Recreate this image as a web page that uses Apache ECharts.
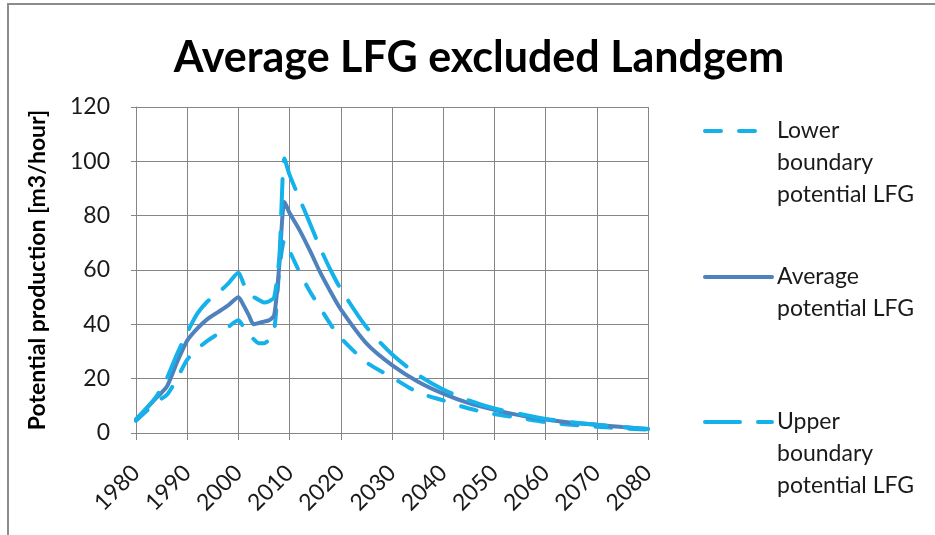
<!DOCTYPE html>
<html>
<head>
<meta charset="utf-8">
<script src="https://cdn.jsdelivr.net/npm/echarts@6/dist/echarts.min.js"></script>
<style>
  html, body { margin: 0; padding: 0; background: #fff; }
  #chart { width: 935px; height: 535px; }
</style>
</head>
<body>
<div id="chart"></div>
<script>
// years
const years = [1980, 1982, 1984, 1986, 1988, 1990, 1992, 1994, 1996, 1998,
  2000, 2001, 2002, 2003, 2004, 2005, 2006, 2007, 2008, 2009,
  2010, 2012, 2014, 2016, 2018, 2020, 2025, 2030, 2035, 2040,
  2045, 2050, 2055, 2060, 2065, 2070, 2075, 2080];

const lowerVals = [4.5, 8, 11.5, 14, 20, 27, 31, 34, 36.5, 39,
  41.5, 39, 36.5, 34.5, 33, 33, 34.5, 38, 60, 71,
  67, 59, 52, 46, 40, 35, 26, 20.5, 15, 12,
  9, 7, 5.5, 4, 3, 2.3, 1.7, 1.2];

const avgVals = [5, 9, 13, 17, 26, 34, 38.5, 42, 44.5, 47,
  50, 47, 43.5, 40, 40.5, 41, 41.5, 43.5, 62, 85,
  81, 74.5, 67, 59, 52, 45.5, 33, 25, 19, 14.5,
  11, 8.5, 6.5, 5, 3.8, 3, 2.2, 1.5];

const upperVals = [5, 9, 13.5, 20, 29, 37, 44, 48.5, 51.5, 55,
  59, 55, 51.5, 50, 49, 48, 48.5, 50, 65, 101,
  95, 86, 77, 68, 60, 53, 39, 29, 21.5, 16,
  12, 9, 7, 5.2, 4, 3, 2.2, 1.5];

const seriesNames = [
  "Lower\nboundary\npotential LFG",
  "Average\npotential LFG",
  "Upper\nboundary\npotential LFG"
];

const toPairs = (vals) => years.map((y, i) => [y, vals[i]]);

const chart = echarts.init(document.getElementById("chart"));

// blank lines in front so the icon sits beside the first text line
const padLines = (name) => "\n".repeat(name.split("\n").length - 1) + name;

const legendText = (padLeft) => ({
  fontFamily: "Lato",
  fontSize: 23,
  color: "#1a1a1a",
  lineHeight: 32,
  padding: [0, 0, 0, padLeft]
});

const legendBase = {
  left: 698,
  itemWidth: 67,
  itemHeight: 14,
  itemGap: 0,
  icon: "inherit",
  itemStyle: { opacity: 0 },
  lineStyle: { width: 4, cap: "round" },
  formatter: padLines,
  textStyle: legendText(0)
};

const option = {
  animation: false,
  title: {
    text: "Average LFG excluded Landgem",
    left: 474,
    top: 32,
    textAlign: "center",
    textStyle: {
      fontFamily: "Lato",
      fontWeight: "bold",
      fontSize: 43,
      color: "#000"
    }
  },
  graphic: [
    {
      type: "rect",
      shape: { x: 8, y: 4, width: 1200, height: 800 },
      style: { fill: "none", stroke: "#8c8c8c", lineWidth: 2 },
      silent: true
    }
  ],
  legend: [
    Object.assign({}, legendBase, {
      data: [seriesNames[0]], top: 46, itemWidth: 54, textStyle: legendText(13)
    }),
    Object.assign({}, legendBase, { data: [seriesNames[1]], top: 224 }),
    Object.assign({}, legendBase, { data: [seriesNames[2]], top: 337 })
  ],
  grid: {
    left: 136,
    top: 107,
    width: 512,
    height: 326
  },
  xAxis: {
    type: "value",
    min: 1980,
    max: 2080,
    interval: 10,
    axisLine: { show: true, lineStyle: { color: "#868686", width: 1 } },
    axisTick: { show: true, length: 7, lineStyle: { color: "#868686" } },
    splitLine: { show: true, lineStyle: { color: "#868686", width: 1 } },
    axisLabel: {
      rotate: 45,
      margin: 36,
      fontFamily: "Lato",
      fontSize: 23,
      color: "#1a1a1a",
      showMinLabel: true,
      showMaxLabel: true,
      formatter: (v) => String(v)
    }
  },
  yAxis: {
    type: "value",
    min: 0,
    max: 120,
    interval: 20,
    name: "Potential production [m3/hour]",
    nameLocation: "middle",
    nameRotate: 90,
    nameGap: 87,
    nameTextStyle: {
      fontFamily: "Lato",
      fontWeight: "bold",
      fontSize: 23,
      color: "#000"
    },
    axisLine: { show: true, lineStyle: { color: "#868686", width: 1 } },
    axisTick: { show: true, length: 5, lineStyle: { color: "#868686" } },
    splitLine: { show: true, lineStyle: { color: "#868686", width: 1 } },
    axisLabel: {
      margin: 26,
      fontFamily: "Lato",
      fontSize: 23,
      color: "#1a1a1a"
    }
  },
  series: [
    {
      name: seriesNames[0],
      type: "line",
      data: toPairs(lowerVals),
      smooth: 0.25,
      showSymbol: false,
      symbol: "none",
      color: "#14b1ea",
      lineStyle: { color: "#14b1ea", width: 4, type: [16, 18], cap: "round" }
    },
    {
      name: seriesNames[1],
      type: "line",
      data: toPairs(avgVals),
      smooth: 0.25,
      showSymbol: false,
      symbol: "none",
      color: "#4f81bd",
      lineStyle: { color: "#4f81bd", width: 4, cap: "round" }
    },
    {
      name: seriesNames[2],
      type: "line",
      data: toPairs(upperVals),
      smooth: 0.25,
      showSymbol: false,
      symbol: "none",
      color: "#14b1ea",
      lineStyle: { color: "#14b1ea", width: 4, type: [35, 18], cap: "round" }
    }
  ]
};

chart.setOption(option);
</script>
</body>
</html>
